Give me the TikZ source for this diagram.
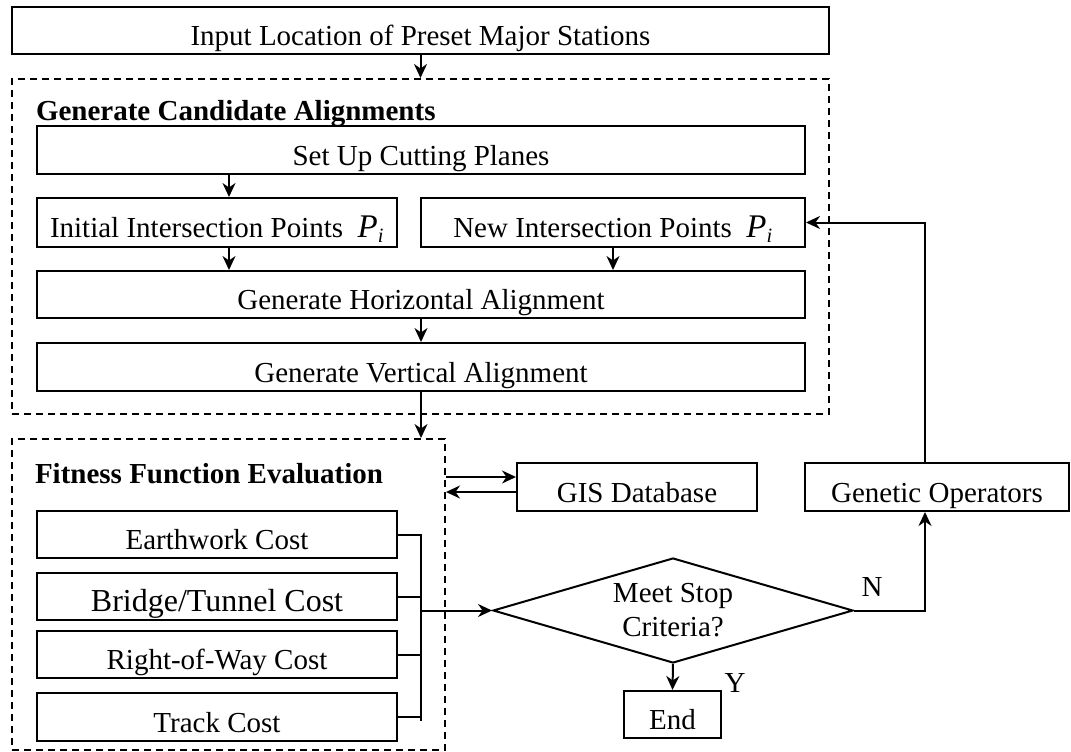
\documentclass[tikz,border=0pt]{standalone}
\usepackage{fontspec}
\setmainfont{Liberation Serif}
\usetikzlibrary{arrows.meta,shapes.geometric}
\begin{document}
\begin{tikzpicture}[x=1pt,y=-1pt,line width=2pt,
    caja/.style={draw, rectangle, inner sep=0pt, text height=30pt, text depth=0pt,
      font=\fontsize{29}{34}\selectfont},
    grupo/.style={draw, rectangle, inner sep=0pt, dash pattern=on 7pt off 5pt},
    titulo/.style={anchor=base west, inner sep=0pt, font=\fontsize{29}{34}\selectfont\bfseries},
    etiq/.style={inner sep=0pt, font=\fontsize{29}{34}\selectfont},
    flecha/.style={-{Stealth[length=14pt,width=13pt,inset=4.5pt]}}]
    \useasboundingbox (0,0) rectangle (1071,752);

    % Entrada
    \node[caja, minimum width=817pt, minimum height=47pt] (inp) at (420.5,30.5) {Input Location of Preset Major Stations};

    % Grupo: alineaciones candidatas
    \node[grupo, minimum width=817pt, minimum height=335pt] (gen) at (420.5,246.5) {};
    \node[titulo] (genT) at (35,121) {Generate Candidate Alignments};
    \node[caja, minimum width=768pt, minimum height=48pt] (setup) at (421,150) {Set Up Cutting Planes};
    \node[caja, minimum width=360pt, minimum height=49pt] (init) at (217,222.5) {Initial Intersection Points\ \ {\fontsize{33}{34}\selectfont\textit{P}}\textsubscript{\textit{i}}};
    \node[caja, minimum width=384pt, minimum height=49pt] (newp) at (613,222.5) {New Intersection Points\ \ {\fontsize{33}{34}\selectfont\textit{P}}\textsubscript{\textit{i}}};
    \node[caja, minimum width=768pt, minimum height=47pt] (horiz) at (421,294.5) {Generate Horizontal Alignment};
    \node[caja, minimum width=768pt, minimum height=48pt] (vert) at (421,367) {Generate Vertical Alignment};

    % Grupo: evaluacion
    \node[grupo, minimum width=433pt, minimum height=311pt] (fit) at (228.5,594.5) {};
    \node[titulo] (fitT) at (34,483) {Fitness Function Evaluation};
    \node[caja, minimum width=360pt, minimum height=47pt] (earth) at (217,534.5) {Earthwork Cost};
    \node[caja, minimum width=360pt, minimum height=47pt, font=\fontsize{32}{36}\selectfont] (bridge) at (217,596.5) {Bridge/Tunnel Cost};
    \node[caja, minimum width=360pt, minimum height=47pt] (row) at (217,654.5) {Right-of-Way Cost};
    \node[caja, minimum width=360pt, minimum height=48pt] (track) at (217,717) {Track Cost};

    % Resto
    \node[caja, minimum width=240pt, minimum height=48pt] (gis) at (637,487) {GIS Database};
    \node[caja, minimum width=264pt, minimum height=48pt] (genop) at (937,487) {Genetic Operators};
    \node[draw, diamond, aspect=3.43, minimum width=360pt, minimum height=105pt, inner sep=0pt,
      align=center, font=\fontsize{29}{34}\selectfont] (dia) at (673,610.5) {Meet Stop\\Criteria?};
    \node[caja, minimum width=97pt, minimum height=47pt] (fin) at (672.5,714.5) {End};
    \node[etiq] (labN) at (872,587) {N};
    \node[etiq] (labY) at (735,683) {Y};

    % Flechas
    \draw[flecha] (inp.south) -- (gen.north);
    \draw[flecha] ([xshift=12pt]init.north |- setup.south) -- ([xshift=12pt]init.north);
    \draw[flecha] ([xshift=12pt]init.south) -- ([xshift=12pt]init.south |- horiz.north);
    \draw[flecha] (newp.south) -- (newp.south |- horiz.north);
    \draw[flecha] (horiz.south) -- (vert.north);
    \draw[flecha] (vert.south) -- (vert.south |- fit.north);
    \draw[flecha] ([yshift=10pt]gis.west -| fit.east) -- ([yshift=10pt]gis.west);
    \draw[flecha] ([yshift=-5pt]gis.west) -- ([yshift=-5pt]gis.west -| fit.east);

    % Corchete de costes
    \coordinate (brkB) at (421,721);
    \draw (earth.east) -| (brkB);
    \foreach \c in {bridge,row,track}
        \draw (\c.east) -- (\c.east -| brkB);
    \draw[flecha] (brkB |- dia.west) -- (dia.west);

    % Bucle
    \draw[flecha] (dia.east) -| ([xshift=-12pt]genop.south);
    \draw[flecha] ([xshift=-12pt]genop.north) |- (newp.east);
    \draw[flecha] (dia.south) -- (fin.north);
\end{tikzpicture}
\end{document}
